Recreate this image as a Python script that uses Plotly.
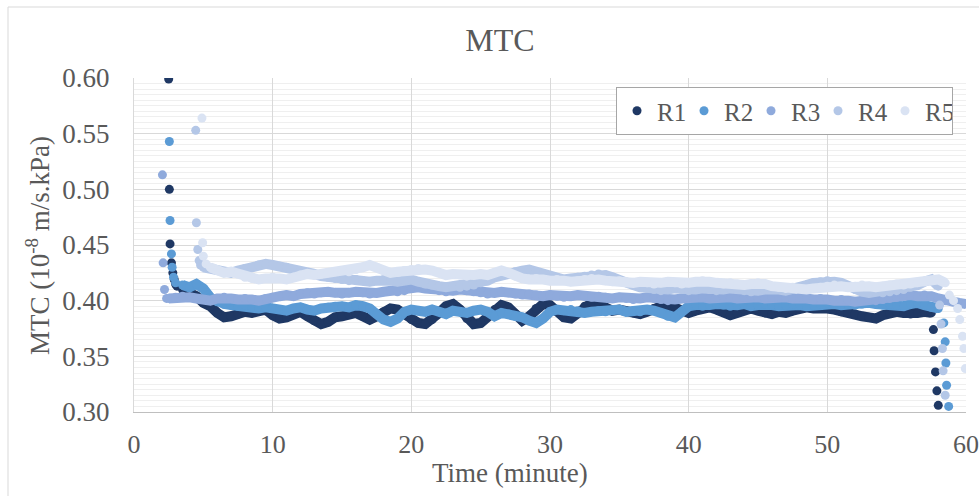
import numpy as np
import plotly.graph_objects as go

# ---- data: MTC (10^-8 m/s.kPa) against time (minute) for five runs ----
# each run: an initial spike (explicit times), a half-minute body, and a final drop
SERIES = ["R1", "R2", "R3", "R4", "R5"]
COLORS = ["#1f3864", "#5b9bd5", "#8faadc", "#b4c7e7", "#dae3f3"]

r1_spike_t = [2.5, 2.55, 2.6, 2.7, 2.8, 2.9, 3.0, 3.1]
r1_spike_v = [0.599, 0.500, 0.451, 0.434, 0.425, 0.419, 0.415, 0.413]
r1_body_start = 3.5
r1_body_v = [
    0.410, 0.408, 0.404, 0.398, 0.395, 0.389, 0.385, 0.386, 0.388, 0.390,
    0.389, 0.391, 0.392, 0.387, 0.384, 0.385, 0.388, 0.390, 0.386, 0.382,
    0.379, 0.381, 0.385, 0.386, 0.388, 0.389, 0.386, 0.383, 0.386, 0.390,
    0.393, 0.392, 0.388, 0.383, 0.380, 0.379, 0.383, 0.389, 0.395, 0.397,
    0.392, 0.384, 0.379, 0.380, 0.386, 0.392, 0.396, 0.394, 0.388, 0.382,
    0.386, 0.393, 0.397, 0.396, 0.390, 0.385, 0.384, 0.389, 0.395, 0.398,
    0.397, 0.393, 0.391, 0.392, 0.391, 0.389, 0.388, 0.390, 0.393, 0.395,
    0.396, 0.394, 0.391, 0.389, 0.391, 0.393, 0.394, 0.392, 0.390, 0.387,
    0.389, 0.392, 0.393, 0.391, 0.389, 0.388, 0.390, 0.389, 0.391, 0.393,
    0.394, 0.393, 0.394, 0.393, 0.392, 0.390, 0.389, 0.388, 0.386, 0.385,
    0.384, 0.387, 0.389, 0.390, 0.389, 0.388, 0.389, 0.390, 0.389,
]
r1_tail_t = [57.65, 57.7, 57.8, 57.9, 58.0]
r1_tail_v = [0.374, 0.355, 0.336, 0.319, 0.306]

r2_spike_t = [2.55, 2.6, 2.7, 2.75, 2.85, 3.0]
r2_spike_v = [0.543, 0.472, 0.442, 0.430, 0.421, 0.416]
r2_body_start = 3.5
r2_body_v = [
    0.414, 0.412, 0.415, 0.411, 0.403, 0.399, 0.397, 0.396, 0.395, 0.396,
    0.394, 0.393, 0.394, 0.393, 0.392, 0.391, 0.393, 0.394, 0.392, 0.391,
    0.393, 0.394, 0.395, 0.395, 0.394, 0.396, 0.395, 0.393, 0.388, 0.383,
    0.381, 0.384, 0.390, 0.392, 0.391, 0.390, 0.392, 0.390, 0.388, 0.391,
    0.390, 0.389, 0.391, 0.392, 0.390, 0.386, 0.389, 0.388, 0.386, 0.385,
    0.382, 0.380, 0.384, 0.390, 0.392, 0.391, 0.392, 0.391, 0.389, 0.390,
    0.391, 0.390, 0.391, 0.392, 0.390, 0.391, 0.390, 0.392, 0.391, 0.389,
    0.386, 0.385, 0.390, 0.395, 0.396, 0.395, 0.396, 0.397, 0.396, 0.395,
    0.396, 0.397, 0.395, 0.396, 0.397, 0.396, 0.395, 0.396, 0.397, 0.396,
    0.395, 0.396, 0.397, 0.398, 0.397, 0.396, 0.397, 0.396, 0.397, 0.398,
    0.397, 0.396, 0.397, 0.396, 0.395, 0.397, 0.398, 0.396, 0.394, 0.393,
]
r2_tail_t = [58.4, 58.5, 58.55, 58.6, 58.75]
r2_tail_v = [0.380, 0.363, 0.344, 0.324, 0.305]

r3_spike_t = [2.05, 2.1, 2.2, 2.35]
r3_spike_v = [0.513, 0.434, 0.410, 0.402]
r3_body_start = 2.5
r3_body_v = [
    0.402, 0.403, 0.404, 0.403, 0.402, 0.401, 0.400, 0.402, 0.403, 0.402,
    0.401, 0.402, 0.401, 0.400, 0.402, 0.403, 0.404, 0.405, 0.404, 0.406,
    0.407, 0.406, 0.407, 0.408, 0.407, 0.406, 0.407, 0.408, 0.407, 0.406,
    0.407, 0.408, 0.409, 0.408, 0.409, 0.411, 0.412, 0.411, 0.410, 0.409,
    0.408, 0.409, 0.410, 0.409, 0.408, 0.407, 0.406, 0.407, 0.408, 0.407,
    0.406, 0.405, 0.406, 0.405, 0.404, 0.405, 0.404, 0.403, 0.404, 0.405,
    0.404, 0.403, 0.404, 0.403, 0.402, 0.403, 0.402, 0.401, 0.402, 0.403,
    0.402, 0.401, 0.400, 0.401, 0.402, 0.403, 0.404, 0.403, 0.402, 0.403,
    0.404, 0.403, 0.402, 0.403, 0.404, 0.403, 0.402, 0.403, 0.404, 0.403,
    0.402, 0.403, 0.402, 0.401, 0.402, 0.401, 0.400, 0.401, 0.400, 0.399,
    0.400, 0.401, 0.400, 0.401, 0.402, 0.403, 0.404, 0.405, 0.404, 0.405,
    0.404, 0.402, 0.400, 0.399, 0.398, 0.397,
]
r3_tail_t = []
r3_tail_v = []

r4_spike_t = [4.45, 4.5, 4.6, 4.7, 4.8]
r4_spike_v = [0.553, 0.470, 0.446, 0.436, 0.432]
r4_body_start = 5.0
r4_body_v = [
    0.430, 0.429, 0.427, 0.426, 0.425, 0.427, 0.429, 0.430, 0.432, 0.433,
    0.432, 0.431, 0.430, 0.428, 0.426, 0.425, 0.424, 0.422, 0.421, 0.420,
    0.419, 0.418, 0.419, 0.418, 0.417, 0.418, 0.419, 0.418, 0.417, 0.418,
    0.419, 0.417, 0.415, 0.414, 0.413, 0.412, 0.413, 0.412, 0.413, 0.414,
    0.416, 0.418, 0.421, 0.423, 0.425, 0.426, 0.427, 0.428, 0.426, 0.424,
    0.422, 0.420, 0.419, 0.420, 0.421, 0.422, 0.423, 0.424, 0.423, 0.421,
    0.418, 0.416, 0.414, 0.412, 0.411, 0.410, 0.409, 0.410, 0.411, 0.410,
    0.409, 0.410, 0.411, 0.410, 0.409, 0.410, 0.411, 0.410, 0.409, 0.408,
    0.409, 0.410, 0.411, 0.410, 0.409, 0.410, 0.412, 0.414, 0.416, 0.417,
    0.418, 0.417, 0.416, 0.413, 0.410, 0.408, 0.407, 0.408, 0.407, 0.408,
    0.409, 0.410, 0.412, 0.414, 0.417, 0.419, 0.413,
]
r4_tail_t = [58.1, 58.2, 58.3, 58.35, 58.5]
r4_tail_v = [0.396, 0.379, 0.357, 0.337, 0.315]

r5_spike_t = [4.9, 4.95, 5.0, 5.2]
r5_spike_v = [0.564, 0.452, 0.440, 0.433]
r5_body_start = 5.5
r5_body_v = [
    0.430, 0.427, 0.425, 0.426, 0.424, 0.421, 0.420, 0.419, 0.420, 0.421,
    0.420, 0.419, 0.421, 0.423, 0.424, 0.423, 0.424, 0.425, 0.426, 0.427,
    0.426, 0.428, 0.430, 0.432, 0.430, 0.427, 0.425, 0.426, 0.427, 0.428,
    0.429, 0.428, 0.427, 0.425, 0.423, 0.424, 0.423, 0.422, 0.423, 0.424,
    0.423, 0.425, 0.427, 0.425, 0.422, 0.420, 0.419, 0.420, 0.419, 0.418,
    0.419, 0.418, 0.417, 0.418, 0.419, 0.420, 0.419, 0.418, 0.417, 0.418,
    0.417, 0.416, 0.417, 0.416, 0.415, 0.416, 0.417, 0.416, 0.415, 0.416,
    0.417, 0.418, 0.417, 0.416, 0.415, 0.416, 0.415, 0.414, 0.415, 0.416,
    0.415, 0.413, 0.412, 0.411, 0.412, 0.411, 0.410, 0.411, 0.412, 0.413,
    0.414, 0.413, 0.412, 0.413, 0.414, 0.413, 0.412, 0.413, 0.414, 0.415,
    0.414, 0.415, 0.416, 0.417, 0.418, 0.419, 0.416,
]
r5_tail_t = [58.8, 59.1, 59.4, 59.55, 59.75, 59.85, 59.95]
r5_tail_v = [0.405, 0.400, 0.393, 0.383, 0.368, 0.357, 0.339]

runs = [
    (r1_spike_t, r1_spike_v, r1_body_start, r1_body_v, r1_tail_t, r1_tail_v),
    (r2_spike_t, r2_spike_v, r2_body_start, r2_body_v, r2_tail_t, r2_tail_v),
    (r3_spike_t, r3_spike_v, r3_body_start, r3_body_v, r3_tail_t, r3_tail_v),
    (r4_spike_t, r4_spike_v, r4_body_start, r4_body_v, r4_tail_t, r4_tail_v),
    (r5_spike_t, r5_spike_v, r5_body_start, r5_body_v, r5_tail_t, r5_tail_v),
]

X_TICKS = [0, 10, 20, 30, 40, 50, 60]
Y_TICKS = [0.30, 0.35, 0.40, 0.45, 0.50, 0.55, 0.60]

FONT = "Liberation Serif"
TEXT = "#595959"
MARKER = 9
AXIS_FONT = 27

fig = go.Figure()
for name, color, (st, sv, b0, bv, tt, tv) in zip(SERIES, COLORS, runs):
    body_t = list(b0 + 0.5 * np.arange(len(bv)))
    # densely sampled body reads as a continuous band of dots
    fig.add_trace(go.Scatter(
        x=body_t, y=bv, mode="lines", showlegend=False, hoverinfo="skip",
        line=dict(color=color, width=MARKER + 1),
    ))
    fig.add_trace(go.Scatter(
        x=list(st) + body_t + list(tt),
        y=list(sv) + list(bv) + list(tv),
        mode="markers",
        name=name,
        marker=dict(color=color, size=MARKER, line=dict(width=0)),
    ))

# plot area spans px 134..966 horizontally and 78..412 vertically
L, R, T, B = 134, 13, 78, 84
W, H = 979, 496
pw, ph = W - L - R, H - T - B


def px_x(px):
    return (px - L) / pw


def px_y(py):
    return 1 - (py - T) / ph


fig.update_layout(
    width=W, height=H, autosize=False,
    margin=dict(l=L, r=R, t=T, b=B, autoexpand=False),
    paper_bgcolor="white", plot_bgcolor="white",
    font=dict(family=FONT, color=TEXT, size=AXIS_FONT),
    title=dict(text="MTC", x=500 / W, xref="container", xanchor="center",
               y=1 - 40 / H, yref="container", yanchor="middle",
               font=dict(size=32, color=TEXT, family=FONT)),
    showlegend=True,
    legend=dict(orientation="h", x=px_x(616), y=px_y(87),
                xanchor="left", yanchor="top",
                entrywidth=22, entrywidthmode="pixels",
                bordercolor="#a6a6a6", borderwidth=1, bgcolor="white",
                font=dict(size=25, color=TEXT, family=FONT),
                itemsizing="trace"),
    shapes=[
        dict(type="line", xref="paper", yref="paper",
             x0=px_x(8), x1=px_x(W), y0=px_y(7), y1=px_y(7),
             line=dict(color="#d9d9d9", width=1)),
        dict(type="line", xref="paper", yref="paper",
             x0=px_x(8), x1=px_x(8), y0=px_y(7), y1=px_y(H),
             line=dict(color="#d9d9d9", width=1)),
    ],
    annotations=[
        dict(text="Time (minute)", xref="paper", yref="paper",
             x=px_x(510), y=px_y(473), xanchor="center", yanchor="middle",
             showarrow=False, font=dict(size=AXIS_FONT, color=TEXT, family=FONT)),
        dict(text="MTC (10<sup>-8</sup> m/s.kPa)", xref="paper", yref="paper",
             x=px_x(38), y=px_y(246), xanchor="center", yanchor="middle",
             textangle=-90, showarrow=False,
             font=dict(size=AXIS_FONT, color=TEXT, family=FONT)),
    ],
)

fig.update_xaxes(
    range=[0, 60], tickvals=X_TICKS, ticktext=[str(v) for v in X_TICKS],
    automargin=False, ticklabeloverflow="allow",
    showgrid=True, gridcolor="#d9d9d9", gridwidth=1,
    showline=True, linecolor="#bfbfbf", linewidth=1,
    zeroline=False, ticks="", ticklabelstandoff=9,
    tickfont=dict(size=26, color=TEXT, family=FONT),
)
fig.update_yaxes(
    range=[0.30, 0.60], tickvals=Y_TICKS, ticktext=[f"{v:.2f}" for v in Y_TICKS],
    automargin=False, ticklabeloverflow="allow",
    showgrid=True, gridcolor="#d9d9d9", gridwidth=1,
    minor=dict(dtick=0.005, showgrid=True, gridcolor="#efefef", gridwidth=1),
    showline=True, linecolor="#d9d9d9", linewidth=1,
    zeroline=False, ticks="", ticklabelstandoff=18,
    tickfont=dict(size=AXIS_FONT, color=TEXT, family=FONT),
)

fig.write_html("out.html")
